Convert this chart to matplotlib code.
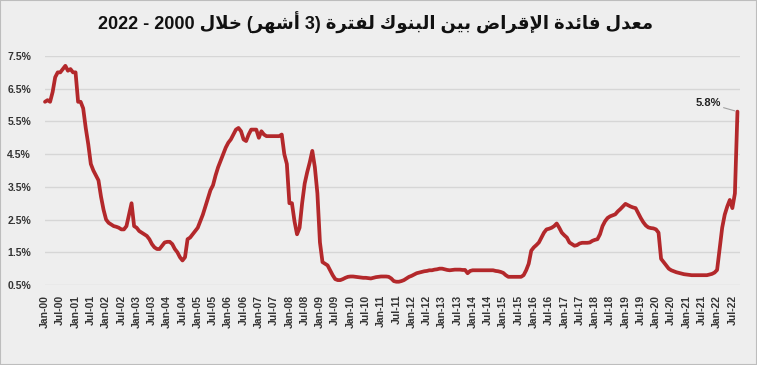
import matplotlib
matplotlib.use("Agg")
import matplotlib.pyplot as plt
import matplotlib.patches as patches

# monthly 3-month interbank rate (%), Jan-2000 .. Sep-2022
rate_2000 = [6.1, 6.15, 6.1, 6.4, 6.85, 7.0, 7.0, 7.1, 7.2, 7.05, 7.1, 7.0]
rate_2001 = [7.0, 6.1, 6.1, 5.9, 5.3, 4.8, 4.2, 4.0, 3.85, 3.7, 3.2, 2.8]
rate_2002 = [2.5, 2.4, 2.35, 2.3, 2.28, 2.25, 2.2, 2.2, 2.3, 2.65, 3.0, 2.3]
rate_2003 = [2.25, 2.15, 2.1, 2.05, 2.0, 1.9, 1.75, 1.65, 1.6, 1.6, 1.7, 1.8]
rate_2004 = [1.82, 1.82, 1.75, 1.6, 1.5, 1.35, 1.25, 1.35, 1.9, 1.95, 2.05, 2.15]
rate_2005 = [2.25, 2.45, 2.65, 2.9, 3.15, 3.4, 3.55, 3.85, 4.1, 4.3, 4.5, 4.7]
rate_2006 = [4.85, 4.95, 5.1, 5.25, 5.3, 5.2, 4.95, 4.9, 5.1, 5.25, 5.25, 5.25]
rate_2007 = [5.0, 5.2, 5.1, 5.05, 5.05, 5.05, 5.05, 5.05, 5.05, 5.1, 4.5, 4.2]
rate_2008 = [3.0, 3.0, 2.45, 2.05, 2.25, 3.0, 3.6, 3.95, 4.25, 4.6, 4.1, 3.3]
rate_2009 = [1.8, 1.2, 1.15, 1.1, 0.95, 0.8, 0.68, 0.65, 0.65, 0.68, 0.72, 0.75]
rate_2010 = [0.76, 0.76, 0.75, 0.74, 0.73, 0.72, 0.72, 0.71, 0.7, 0.72, 0.74, 0.75]
rate_2011 = [0.76, 0.76, 0.76, 0.75, 0.7, 0.62, 0.6, 0.6, 0.62, 0.65, 0.7, 0.75]
rate_2012 = [0.78, 0.82, 0.86, 0.88, 0.9, 0.92, 0.93, 0.95, 0.95, 0.97, 0.98, 1.0]
rate_2013 = [1.0, 0.98, 0.96, 0.95, 0.96, 0.97, 0.97, 0.97, 0.96, 0.96, 0.86, 0.93]
rate_2014 = [0.95, 0.95, 0.95, 0.95, 0.95, 0.95, 0.95, 0.95, 0.95, 0.93, 0.92, 0.9]
rate_2015 = [0.87, 0.8, 0.75, 0.75, 0.75, 0.75, 0.75, 0.75, 0.8, 0.95, 1.15, 1.55]
rate_2016 = [1.65, 1.72, 1.8, 1.95, 2.1, 2.2, 2.22, 2.25, 2.3, 2.38, 2.25, 2.1]
rate_2017 = [2.02, 1.95, 1.8, 1.75, 1.7, 1.72, 1.77, 1.79, 1.79, 1.79, 1.8, 1.85]
rate_2018 = [1.88, 1.9, 2.05, 2.3, 2.45, 2.55, 2.6, 2.63, 2.66, 2.75, 2.82, 2.9]
rate_2019 = [2.98, 2.94, 2.9, 2.87, 2.85, 2.7, 2.55, 2.42, 2.32, 2.26, 2.24, 2.23]
rate_2020 = [2.2, 2.1, 1.3, 1.2, 1.1, 1.0, 0.95, 0.92, 0.89, 0.87, 0.85, 0.83]
rate_2021 = [0.82, 0.81, 0.8, 0.8, 0.8, 0.8, 0.8, 0.8, 0.8, 0.82, 0.84, 0.88]
rate_2022 = [0.96, 1.6, 2.25, 2.65, 2.9, 3.1, 2.85, 3.3, 5.8]

rates = (rate_2000 + rate_2001 + rate_2002 + rate_2003 + rate_2004 + rate_2005
         + rate_2006 + rate_2007 + rate_2008 + rate_2009 + rate_2010 + rate_2011
         + rate_2012 + rate_2013 + rate_2014 + rate_2015 + rate_2016 + rate_2017
         + rate_2018 + rate_2019 + rate_2020 + rate_2021 + rate_2022)
months = list(range(len(rates)))

tick_labels = []
for yr in range(0, 23):
    tick_labels += ['Jan-%02d' % yr, 'Jul-%02d' % yr]
y_ticks = [0.5, 1.5, 2.5, 3.5, 4.5, 5.5, 6.5, 7.5]

# --- tiny arabic shaper (matplotlib has no bidi / joining) ---
DUAL = {'ئ': 0xFE89, 'ب': 0xFE8F, 'ت': 0xFE95, 'خ': 0xFEA5, 'ش': 0xFEB5,
        'ض': 0xFEBD, 'ع': 0xFEC9, 'ف': 0xFED1, 'ق': 0xFED5, 'ك': 0xFED9,
        'ل': 0xFEDD, 'م': 0xFEE1, 'ن': 0xFEE5, 'ه': 0xFEE9, 'ي': 0xFEF1}
RIGHT = {'أ': 0xFE83, 'إ': 0xFE87, 'ا': 0xFE8D, 'ة': 0xFE93, 'د': 0xFEA9,
         'ر': 0xFEAD, 'و': 0xFEED}
LAM_ALEF = {'أ': 0xFEF7, 'إ': 0xFEF9, 'ا': 0xFEFB}


def ar(word):
    out = []
    i = 0
    prev = False
    while i < len(word):
        ch = word[i]
        nxt = word[i + 1] if i + 1 < len(word) else None
        if ch == 'ل' and nxt in LAM_ALEF:
            out.append(chr(LAM_ALEF[nxt] + (1 if prev else 0)))
            prev = False
            i += 2
            continue
        if ch in DUAL:
            joins = nxt is not None and (nxt in DUAL or nxt in RIGHT)
            form = {(False, False): 0, (True, False): 1,
                    (False, True): 2, (True, True): 3}[(prev, joins)]
            out.append(chr(DUAL[ch] + form))
            prev = joins
        else:
            out.append(chr(RIGHT[ch] + (1 if prev else 0)))
            prev = False
        i += 1
    return ''.join(reversed(out))


title = ('2022 - 2000 ' + ar('خلال') + ' (' + ar('أشهر') + ' 3) ' + ar('لفترة')
         + ' ' + ar('البنوك') + ' ' + ar('بين') + ' ' + ar('الإقراض')
         + ' ' + ar('فائدة') + ' ' + ar('معدل'))

bg = '#EEEEEE'
fig = plt.figure(figsize=(7.57, 3.65), dpi=100, facecolor=bg)
ax = fig.add_axes([45 / 757, 1 - 285 / 365, 695 / 757, 229 / 365])
ax.set_facecolor(bg)

ax.plot(months, rates, color='#B3282B', lw=2.7, solid_joinstyle='round',
        solid_capstyle='round', clip_on=False, zorder=3)

ax.set_ylim(0.5, 7.5)
ax.set_xlim(0, 273)
ax.set_yticks(y_ticks)
ax.set_yticklabels(['%.1f%%' % v for v in y_ticks])
ax.set_xticks(range(0, 271, 6))
ax.set_xticklabels(tick_labels[:46], rotation=90)
ax.tick_params(length=0)
ax.tick_params(axis='y', pad=10)
ax.tick_params(axis='x', pad=7)
for lab in ax.get_yticklabels() + ax.get_xticklabels():
    lab.set_fontfamily(['Liberation Sans', 'DejaVu Sans'])
    lab.set_fontweight('bold')
    lab.set_fontsize(7.5)
    lab.set_color('#333333')
ax.grid(axis='y', color='#D6D6D6', lw=1)
ax.set_axisbelow(True)
for s in ax.spines.values():
    s.set_visible(False)

ax.annotate('5.8%', xy=(months[-1], rates[-1]), xytext=(-12, 6),
            textcoords='offset points', ha='right', va='center',
            fontsize=8, fontweight='bold', color='#222222',
            family=['Liberation Sans', 'DejaVu Sans'],
            arrowprops=dict(arrowstyle='-', color='#A0A0A0', lw=0.8,
                            shrinkA=0, shrinkB=2))

fig.text(376 / 757, 1 - 23 / 365, title, ha='center', va='center', fontsize=13,
         fontweight='bold', color='#111111',
         family=['Liberation Sans', 'DejaVu Sans'])

fig.patches.append(patches.Rectangle((0, 0), 1, 1, transform=fig.transFigure,
                                     fill=False, edgecolor='#BDBDBD', lw=1.5))

fig.savefig('out.png', dpi=100, facecolor=bg)
